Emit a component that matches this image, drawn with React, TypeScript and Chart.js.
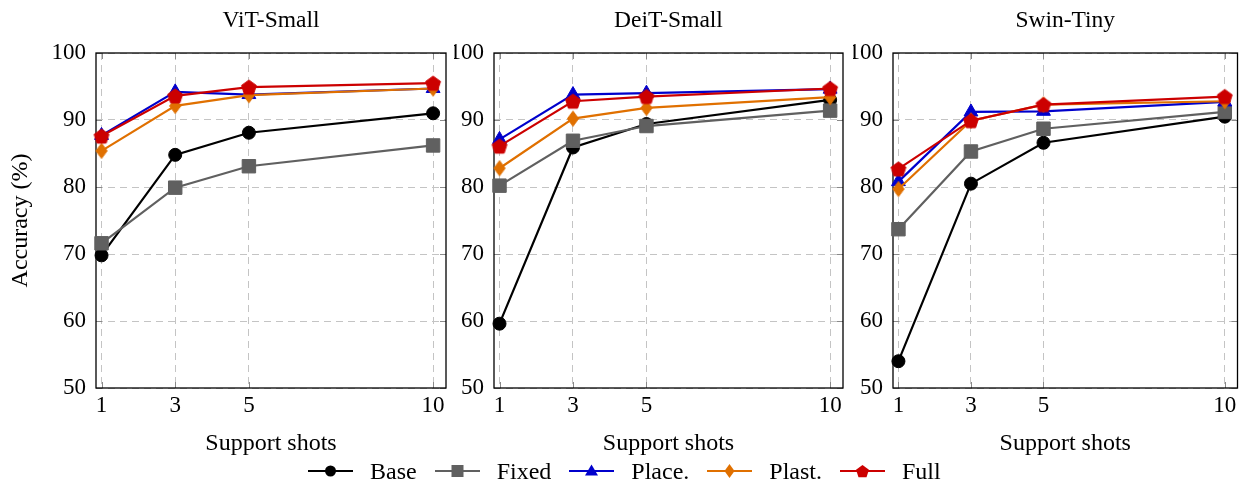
import React, { useEffect, useRef } from "react";
import { Chart, registerables } from "chart.js";

Chart.register(...registerables);

// ---------- data ----------
const shots = [1, 3, 5, 10];
const xTicks = [1, 3, 5, 10];
const yTicks = [50, 60, 70, 80, 90, 100];
const panelTitles = ["ViT-Small", "DeiT-Small", "Swin-Tiny"];
const seriesNames = ["Base", "Fixed", "Place.", "Plast.", "Full"];

const vitBase = [69.8, 84.8, 88.1, 91.0];
const vitFixed = [71.6, 79.9, 83.1, 86.2];
const vitPlace = [87.7, 94.2, 93.8, 94.7];
const vitPlast = [85.4, 92.1, 93.7, 94.7];
const vitFull = [87.6, 93.6, 94.9, 95.5];

const deitBase = [59.6, 85.9, 89.4, 93.0];
const deitFixed = [80.2, 86.9, 89.1, 91.4];
const deitPlace = [87.1, 93.8, 94.0, 94.6];
const deitPlast = [82.8, 90.2, 91.8, 93.4];
const deitFull = [86.1, 92.8, 93.5, 94.7];

const swinBase = [54.0, 80.5, 86.6, 90.5];
const swinFixed = [73.7, 85.3, 88.7, 91.2];
const swinPlace = [80.8, 91.2, 91.3, 92.7];
const swinPlast = [79.7, 89.9, 92.3, 92.8];
const swinFull = [82.7, 89.9, 92.3, 93.5];

const panelSeries = [
  [vitBase, vitFixed, vitPlace, vitPlast, vitFull],
  [deitBase, deitFixed, deitPlace, deitPlast, deitFull],
  [swinBase, swinFixed, swinPlace, swinPlast, swinFull],
];

// ---------- styles ----------
const FONT = "'Liberation Serif', 'Times New Roman', serif";
const seriesColors = ["#000000", "#606060", "#0000CC", "#E07000", "#CC0000"];
const markerKinds = ["circle", "rect", "triangle", "diamond", "pentagon"];

const W = 1248;
const H = 460;
const panelLeft = [96, 494, 893];
const panelRight = [446, 843, 1243];
const yAxisWidth = [96, 40, 40];

function makeMarker(kind: string, color: string): HTMLCanvasElement {
  const c = document.createElement("canvas");
  c.width = 20;
  c.height = 20;
  const g = c.getContext("2d")!;
  g.fillStyle = color;
  g.strokeStyle = color;
  g.lineWidth = 1;
  g.beginPath();
  if (kind === "pentagon") {
    const r = 7.8;
    for (let k = 0; k < 5; k++) {
      const a = -Math.PI / 2 + (k * 2 * Math.PI) / 5;
      const px = 10 + r * Math.cos(a);
      const py = 10.7 + r * Math.sin(a);
      if (k === 0) g.moveTo(px, py);
      else g.lineTo(px, py);
    }
  } else {
    g.moveTo(10, 10 - 7.6);
    g.lineTo(10 + 5.6, 10);
    g.lineTo(10, 10 + 7.6);
    g.lineTo(10 - 5.6, 10);
  }
  g.closePath();
  g.fill();
  g.stroke();
  return c;
}

const framePlugin = {
  id: "frame",
  beforeDatasetsDraw(chart: any) {
    const { ctx, chartArea } = chart;
    const { left, right, top, bottom } = chartArea;
    const x = chart.scales.x;
    const y = chart.scales.y;
    ctx.save();
    ctx.strokeStyle = "#8a8a8a";
    ctx.lineWidth = 1;
    ctx.beginPath();
    xTicks.forEach((v) => {
      const px = Math.round(x.getPixelForValue(v)) + 0.5;
      ctx.moveTo(px, bottom);
      ctx.lineTo(px, bottom - 6);
      ctx.moveTo(px, top);
      ctx.lineTo(px, top + 6);
    });
    yTicks.forEach((v) => {
      const py = Math.round(y.getPixelForValue(v)) + 0.5;
      ctx.moveTo(left, py);
      ctx.lineTo(left + 6, py);
      ctx.moveTo(right, py);
      ctx.lineTo(right - 6, py);
    });
    ctx.stroke();
    ctx.strokeStyle = "#000";
    ctx.lineWidth = 1.3;
    ctx.strokeRect(left, top, right - left, bottom - top);
    ctx.restore();
  },
};

function Panel({ index }: { index: number }) {
  const ref = useRef<HTMLCanvasElement>(null);
  useEffect(() => {
    const styles: any[] = markerKinds.map((k, i) =>
      k === "diamond" || k === "pentagon" ? makeMarker(k, seriesColors[i]) : k
    );
    const radii = [6.5, 9.5, 8, 7, 7];
    const datasets = seriesNames.map((name, i) => ({
      label: name,
      data: shots.map((s, j) => ({ x: s, y: panelSeries[index][i][j] })),
      borderColor: seriesColors[i],
      backgroundColor: seriesColors[i],
      pointBackgroundColor: seriesColors[i],
      pointBorderColor: seriesColors[i],
      borderWidth: 2.2,
      pointStyle: styles[i],
      pointRadius: radii[i],
      pointBorderWidth: 1,
      tension: 0,
      clip: false as any,
      order: 5 - i,
    }));
    const gridCfg = { color: "#c4c4c4", lineWidth: 1, drawTicks: false };
    const borderCfg = { display: false, dash: [7, 5] };
    const chart = new Chart(ref.current!, {
      type: "line",
      data: { datasets },
      plugins: [framePlugin],
      options: {
        animation: false,
        responsive: false,
        events: [],
        layout: {
          padding: {
            left: panelLeft[index] - yAxisWidth[index],
            right: W - panelRight[index],
            top: 0,
            bottom: 0,
          },
        },
        plugins: {
          legend: { display: false },
          tooltip: { enabled: false },
          title: {
            display: true,
            text: panelTitles[index],
            fullSize: false,
            color: "#000",
            font: { family: FONT, size: 23.5, weight: "normal" },
            padding: { top: 6.5, bottom: 18.3 },
          },
        },
        scales: {
          x: {
            type: "linear",
            min: 0.85,
            max: 10.35,
            afterBuildTicks: (s: any) => {
              s.ticks = xTicks.map((v) => ({ value: v }));
            },
            afterFit: (s: any) => {
              s.height = H - 388;
            },
            ticks: {
              color: "#000",
              font: { family: FONT, size: 23 },
              padding: 4,
              maxRotation: 0,
              autoSkip: false,
            },
            grid: gridCfg,
            border: borderCfg,
            title: {
              display: true,
              text: "Support shots",
              color: "#000",
              font: { family: FONT, size: 24 },
              padding: { top: 0, bottom: 2 },
            },
          },
          y: {
            type: "linear",
            min: 50,
            max: 100,
            afterBuildTicks: (s: any) => {
              s.ticks = yTicks.map((v) => ({ value: v }));
            },
            afterFit: (s: any) => {
              s.width = yAxisWidth[index];
            },
            ticks: {
              color: "#000",
              font: { family: FONT, size: 23 },
              padding: 10,
            },
            grid: gridCfg,
            border: borderCfg,
            title: {
              display: index === 0,
              text: "Accuracy (%)",
              color: "#000",
              font: { family: FONT, size: 24 },
              padding: { top: 6, bottom: 0 },
            },
          },
        },
      } as any,
    });
    return () => chart.destroy();
  }, [index]);
  return (
    <canvas
      ref={ref}
      width={W}
      height={H}
      style={{ position: "absolute", left: 0, top: 0, width: W, height: H }}
    />
  );
}

function LegendIcon({ i }: { i: number }) {
  const c = seriesColors[i];
  const k = markerKinds[i];
  let marker: React.ReactNode = null;
  const cx = 22.5;
  const cy = 10;
  if (k === "circle") marker = <circle cx={cx} cy={cy} r={5.5} fill={c} />;
  else if (k === "rect") marker = <rect x={cx - 6} y={cy - 6} width={12} height={12} fill={c} />;
  else if (k === "triangle")
    marker = <polygon points={`${cx},${cy - 6.5} ${cx + 6.5},${cy + 4.5} ${cx - 6.5},${cy + 4.5}`} fill={c} />;
  else if (k === "diamond")
    marker = <polygon points={`${cx},${cy - 7} ${cx + 5},${cy} ${cx},${cy + 7} ${cx - 5},${cy}`} fill={c} />;
  else {
    const pts: string[] = [];
    for (let j = 0; j < 5; j++) {
      const a = -Math.PI / 2 + (j * 2 * Math.PI) / 5;
      pts.push(`${cx + 6.8 * Math.cos(a)},${cy + 0.8 + 6.8 * Math.sin(a)}`);
    }
    marker = <polygon points={pts.join(" ")} fill={c} />;
  }
  return (
    <svg width={45} height={20} style={{ display: "block" }}>
      <line x1={0} y1={cy} x2={45} y2={cy} stroke={c} strokeWidth={2} />
      {marker}
    </svg>
  );
}

export default function App() {
  return (
    <div
      style={{
        position: "absolute",
        left: 0,
        top: 0,
        width: W,
        height: 487,
        background: "#fff",
        overflow: "hidden",
      }}
    >
      {[0, 1, 2].map((i) => (
        <Panel key={i} index={i} />
      ))}
      <div
        style={{
          position: "absolute",
          left: 308,
          top: 458,
          height: 26,
          display: "flex",
          alignItems: "center",
          fontFamily: FONT,
          fontSize: 24,
          lineHeight: "26px",
          color: "#000",
          whiteSpace: "nowrap",
        }}
      >
        {seriesNames.map((n, i) => (
          <div key={n} style={{ display: "flex", alignItems: "center", marginRight: 18 }}>
            <LegendIcon i={i} />
            <span style={{ marginLeft: 17 }}>{n}</span>
          </div>
        ))}
      </div>
    </div>
  );
}
